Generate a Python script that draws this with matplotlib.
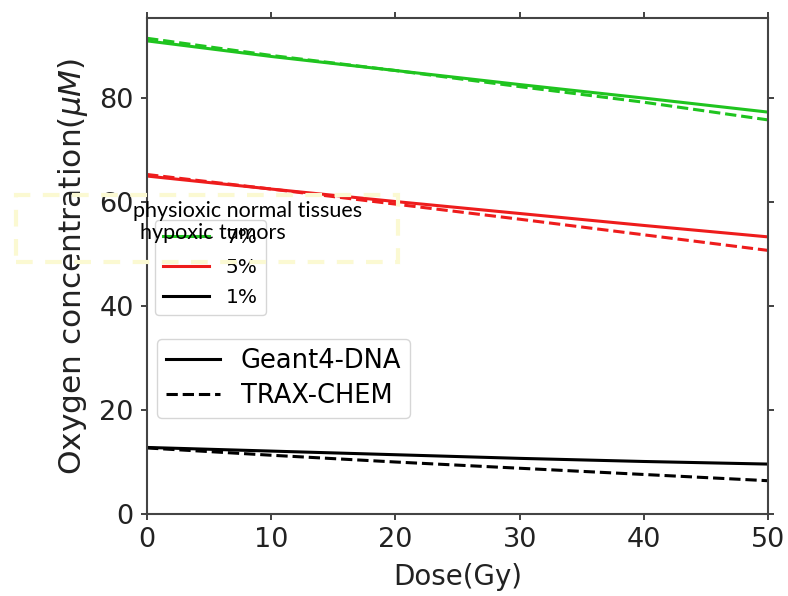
import matplotlib.pyplot as plt
from matplotlib.lines import Line2D
from matplotlib.patches import Rectangle

dose = [0, 10, 20, 30, 40, 50]

g7_geant = [91.0, 88.0, 85.3, 82.6, 80.0, 77.3]
g7_trax = [91.5, 88.2, 85.3, 82.2, 79.2, 75.8]
r5_geant = [65.0, 62.5, 60.1, 57.8, 55.5, 53.3]
r5_trax = [65.3, 62.5, 59.6, 56.7, 53.7, 50.7]
b1_geant = [12.8, 12.1, 11.4, 10.7, 10.1, 9.6]
b1_trax = [12.7, 11.3, 10.0, 8.8, 7.6, 6.4]

levels = ['7%', '5%', '1%']
colors = ['#1fc41f', '#ee1c1c', 'black']
models = ['Geant4-DNA', 'TRAX-CHEM']

fig = plt.figure(figsize=(7.88, 5.96), dpi=100)
ax = fig.add_axes([0.1866, 0.1376, 0.788, 0.8322])

for geant, trax, c in [(g7_geant, g7_trax, colors[0]),
                       (r5_geant, r5_trax, colors[1]),
                       (b1_geant, b1_trax, colors[2])]:
    ax.plot(dose, geant, color=c, lw=2.2, ls='-')
    ax.plot(dose, trax, color=c, lw=2.2, ls='--')

ax.set_xlim(0, 50)
ax.set_ylim(0, 95.4)
ax.set_xticks([0, 10, 20, 30, 40, 50])
ax.set_yticks([0, 20, 40, 60, 80])
ax.tick_params(labelsize=19.5, width=1.3, length=4.5, pad=5,
               colors='#333333', labelcolor='#222222')
ax.tick_params(top=True, right=True)
for s in ax.spines.values():
    s.set_color('#444444')
    s.set_linewidth(1.5)
ax.set_xlabel('Dose(Gy)', fontsize=20, labelpad=7, color='#222222')
ax.set_ylabel(r'Oxygen concentration($\mu M$)', fontsize=22.5,
              labelpad=7, color='#222222')

h1 = [Line2D([], [], color=c, lw=2.2) for c in colors]
leg1 = ax.legend(h1, levels, loc='lower left', bbox_to_anchor=(0.0, 0.385),
                 fontsize=14.5, handlelength=2.3, handletextpad=0.8,
                 labelspacing=0.55, borderaxespad=0.4)
ax.add_artist(leg1)
h2 = [Line2D([], [], color='black', lw=2.2, ls='-'),
      Line2D([], [], color='black', lw=2.2, ls='--')]
ax.legend(h2, models, loc='upper left', bbox_to_anchor=(0.0, 0.373),
          fontsize=18.5, handlelength=2.1, handletextpad=0.8,
          labelspacing=0.35, borderaxespad=0.4, borderpad=0.35)

# overlay annotation box
fig.patches.append(Rectangle((16 / 788, 1 - 262 / 596), 382 / 788, 67 / 596,
                             transform=fig.transFigure, fill=False,
                             edgecolor='#fbf9d2', lw=3, ls=(0, (4, 3))))
fig.text(133 / 788, 1 - 211 / 596, 'physioxic normal tissues', family='Lato',
         fontsize=15.5, va='center', ha='left')
fig.text(140 / 788, 1 - 233 / 596, 'hypoxic tumors', family='Lato',
         fontsize=15.5, va='center', ha='left')

plt.savefig('out.png')
